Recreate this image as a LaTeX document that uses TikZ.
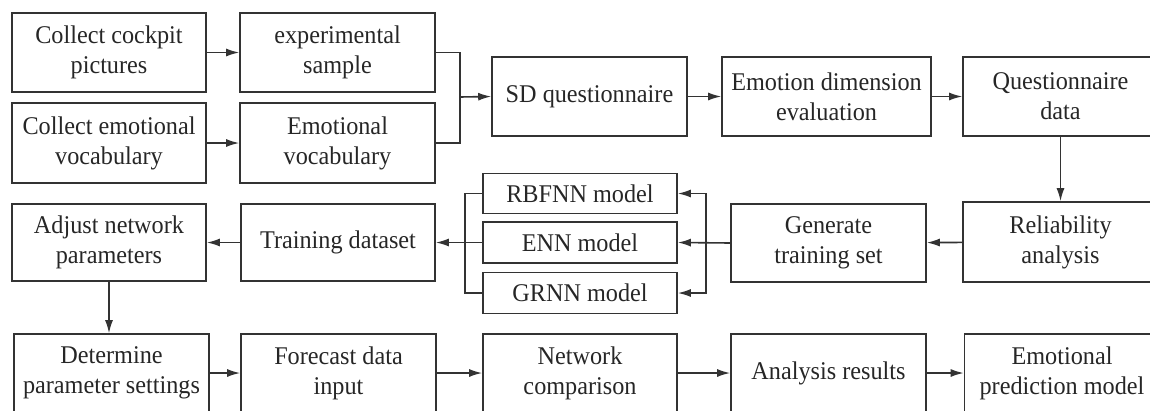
\documentclass[tikz,border=0pt]{standalone}
\usepackage{fontspec}
\setmainfont[FakeStretch=0.95]{Liberation Serif}
\usetikzlibrary{arrows.meta}
\definecolor{ink}{HTML}{262626}
\definecolor{wire}{HTML}{333333}
\tikzset{
  box/.style={draw=wire, line width=1.6pt, text=ink, align=center, inner sep=0pt,
    font=\fontsize{25.5}{30}\selectfont},
  arr/.style={draw=wire, line width=1.6pt, -{Latex[length=13pt,width=8pt]}},
  ln/.style={draw=wire, line width=1.6pt},
}
\begin{document}
\begin{tikzpicture}[x=1pt,y=-1pt]
\useasboundingbox (0,0) rectangle (1150,410);
\begin{scope}
\clip (0,0) rectangle (1150,410);
% first row
\node[box, minimum width=194pt, minimum height=79pt] (cockpit) at (109,52.5) {Collect cockpit\\pictures};
\node[box, minimum width=195pt, minimum height=79pt] (expsample) at (337.5,52.5) {experimental\\sample};
\node[box, minimum width=194pt, minimum height=80pt] (collectvocab) at (109,143) {Collect emotional\\vocabulary};
\node[box, minimum width=195pt, minimum height=80pt] (emovocab) at (337.5,143) {Emotional\\vocabulary};
\node[box, minimum width=195pt, minimum height=79pt] (sd) at (589.5,96.5) {SD questionnaire};
\node[box, minimum width=209pt, minimum height=79pt] (emodim) at (826.5,96.5) {Emotion dimension\\evaluation};
\node[box, minimum width=195pt, minimum height=79pt] (qdata) at (1060.5,96.5) {Questionnaire\\data};
% second row
\node[box, minimum width=194pt, minimum height=77pt] (adjust) at (109,242.5) {Adjust network\\parameters};
\node[box, minimum width=194pt, minimum height=77pt] (training) at (338,242.5) {Training dataset};
\node[box, minimum width=194pt, minimum height=40pt] (rbfnn) at (580,193.5) {RBFNN model};
\node[box, minimum width=194pt, minimum height=41pt] (enn) at (580,242.5) {ENN model};
\node[box, minimum width=194pt, minimum height=41pt] (grnn) at (580,293) {GRNN model};
\node[box, minimum width=195pt, minimum height=78pt] (generate) at (828.5,243) {Generate\\training set};
\node[box, minimum width=195pt, minimum height=80pt] (reliab) at (1060.5,242) {Reliability\\analysis};
% third row
\node[box, minimum width=195pt, minimum height=78pt] (determine) at (111.5,373) {Determine\\parameter settings};
\node[box, minimum width=195pt, minimum height=78pt] (forecast) at (338.5,373) {Forecast data\\input};
\node[box, minimum width=194pt, minimum height=78pt] (network) at (580,373) {Network\\comparison};
\node[box, minimum width=195pt, minimum height=78pt] (analysis) at (828.5,373) {Analysis results};
\node[box, minimum width=195pt, minimum height=78pt] (emopred) at (1062,373) {Emotional\\prediction model};

% junction points
\coordinate (jin) at (460,97);
\coordinate (jgen) at (706,243);
\coordinate (jout) at (465,243);

% first row connectors
\draw[arr] (cockpit) -- (expsample);
\draw[arr] (collectvocab) -- (emovocab);
\draw[ln] (expsample.east) -| (jin);
\draw[ln] (emovocab.east) -| (jin);
\draw[arr] (jin) -- (sd.west);
\draw[arr] (sd) -- (emodim);
\draw[arr] (emodim) -- (qdata);
\draw[arr] (qdata.south) -- (reliab.north);
\draw[arr] (reliab) -- (generate);

% fan-out to the three models
\draw[arr] (generate.west) -- (enn.east);
\draw[arr] (jgen) |- (rbfnn.east);
\draw[arr] (jgen) |- (grnn.east);

% fan-in from the three models
\draw[ln] (rbfnn.west) -| (jout);
\draw[ln] (grnn.west) -| (jout);
\draw[arr] (enn.west) -- (training.east);
\draw[arr] (training) -- (adjust);
\draw[arr] (adjust.south) -- (adjust.south |- determine.north);

% last row connectors
\draw[arr] (determine) -- (forecast);
\draw[arr] (forecast) -- (network);
\draw[arr] (network) -- (analysis);
\draw[arr] (analysis) -- (emopred);
\end{scope}
\end{tikzpicture}
\end{document}
